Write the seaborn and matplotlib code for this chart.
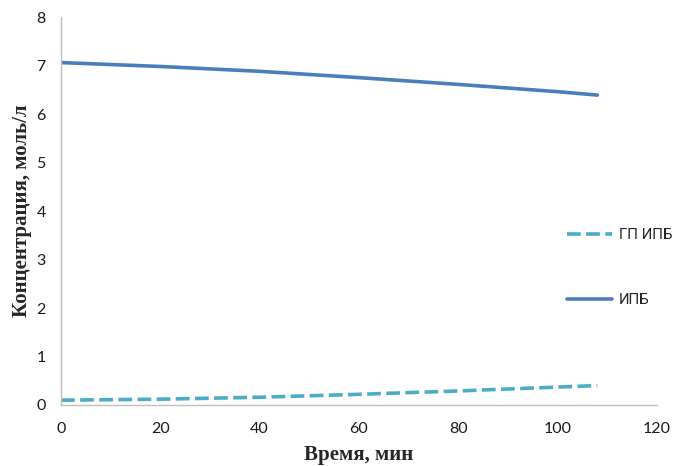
import numpy as np
import pandas as pd
import matplotlib
matplotlib.use("Agg")
import matplotlib.pyplot as plt
import seaborn as sns

time_min = [0, 20, 40, 60, 80, 100, 108]
ipb = [7.06, 6.98, 6.88, 6.75, 6.61, 6.46, 6.39]
gp_ipb = [0.10, 0.12, 0.16, 0.22, 0.29, 0.37, 0.40]
series_names = ["ГП ИПБ", "ИПБ"]
x_ticks = [0, 20, 40, 60, 80, 100, 120]
y_ticks = [0, 1, 2, 3, 4, 5, 6, 7, 8]

df = pd.DataFrame({
    "t": time_min * 2,
    "c": gp_ipb + ipb,
    "s": [series_names[0]] * len(time_min) + [series_names[1]] * len(time_min),
})

sns.set_style("white")
plt.rcParams["font.family"] = ["Lato", "DejaVu Sans"]

fig = plt.figure(figsize=(6.73, 4.66), dpi=100)
ax = fig.add_axes([61/673, 61/466, (657-61)/673, (405-17)/466])

palette = {"ГП ИПБ": "#4BACC6", "ИПБ": "#4A7EBB"}
sns.lineplot(data=df, x="t", y="c", hue="s", style="s", palette=palette,
             dashes={"ГП ИПБ": (3.8, 1.5), "ИПБ": ""}, linewidth=2.6,
             ax=ax, legend=True)

ax.set_xlim(0, 120)
ax.set_ylim(0, 8)
ax.set_xticks(x_ticks)
ax.set_yticks(y_ticks)
ax.tick_params(axis="both", labelsize=11.5, colors="#1a1a1a", length=5, width=1,
               direction="out")
ax.tick_params(axis="x", pad=7)
ax.tick_params(axis="y", pad=6)
ax.tick_params(axis="both", color="#BFBFBF")
for side in ["top", "right"]:
    ax.spines[side].set_visible(False)
for side in ["left", "bottom"]:
    ax.spines[side].set_color("#BFBFBF")
    ax.spines[side].set_linewidth(1)

ax.set_xlabel("Время, мин", fontsize=15, fontweight="bold",
              family=["Liberation Serif", "DejaVu Serif"], labelpad=7)
ax.set_ylabel("Концентрация, моль/л", fontsize=15, fontweight="bold",
              family=["Liberation Serif", "DejaVu Serif"], labelpad=3)

handles, labels = ax.get_legend_handles_labels()
for h in handles:
    h.set_linewidth(2.6)
ax.legend_.remove()
leg = fig.legend(handles, labels, loc="center left",
                 bbox_to_anchor=(567/673, 1 - 268/466), frameon=False,
                 prop={"family": ["Roboto", "DejaVu Sans"], "size": 10.8},
                 handlelength=3.0, handletextpad=0.45,
                 labelspacing=3.4, borderaxespad=0, borderpad=0)

fig.savefig("out.png", dpi=100)
